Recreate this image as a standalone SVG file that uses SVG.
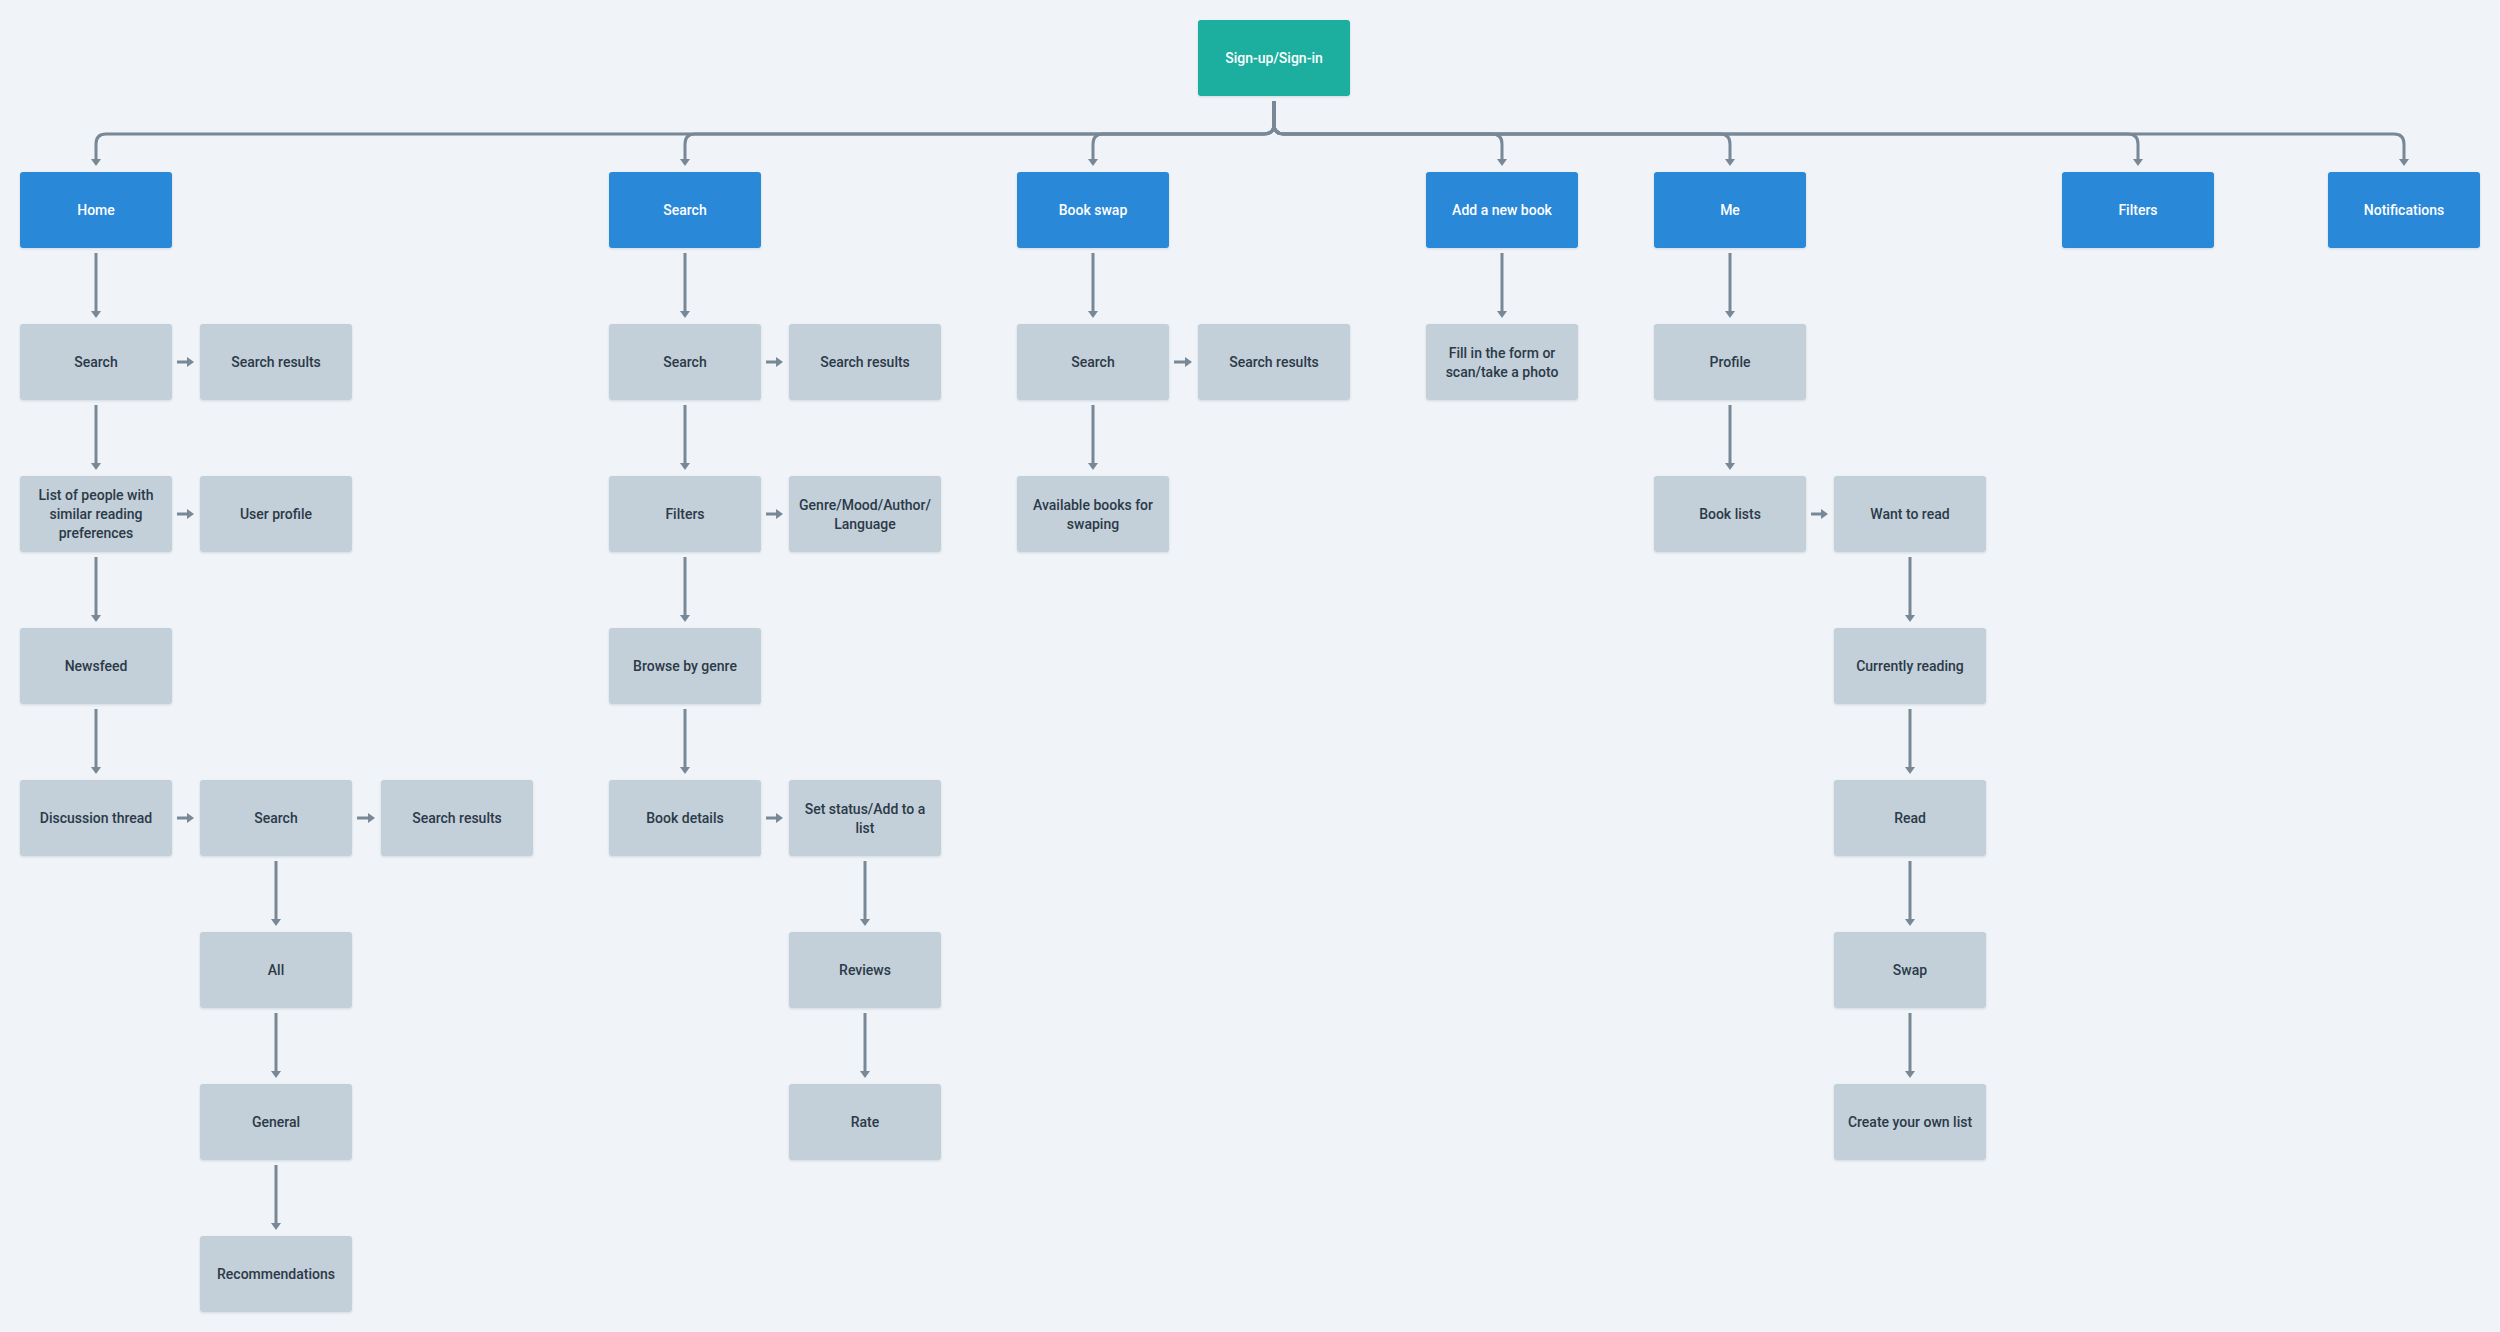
<svg xmlns="http://www.w3.org/2000/svg" width="2500" height="1332" viewBox="0 0 2500 1332">
<style>
.bg{fill:#F0F3F7}
.n rect{rx:3;ry:3;filter:url(#sh)}
.blue rect{fill:#2C88D9}
.teal rect{fill:#1AAE9F}
.grey rect{fill:#C3CFD9}
.n text{font-family:Roboto,"Liberation Sans",Arial,sans-serif;font-size:14px;font-weight:500;text-anchor:middle;dominant-baseline:central}
.blue text,.teal text{fill:#FFFFFF}
.grey text{fill:#2B3A48}
.c path{fill:none;stroke:#788896;stroke-width:3;marker-end:url(#ah)}
</style>
<defs>
<filter id="sh" x="-10%" y="-10%" width="120%" height="130%">
<feDropShadow dx="0" dy="1" stdDeviation="1.2" flood-color="#2B3A48" flood-opacity="0.15"/>
</filter>
<marker id="ah" markerUnits="userSpaceOnUse" viewBox="0 0 7 10" markerWidth="7" markerHeight="10" refX="1" refY="5" orient="auto">
<path d="M0,0 L7,5 L0,10 Z" fill="#788896"/>
</marker>
</defs>
<rect class="bg" x="0" y="0" width="2500" height="1332"/>

<g id="connectors" class="c">
<path d="M1274,101 V124 Q1274,134 1264,134 H106 Q96,134 96,144 V160"/>
<path d="M1274,101 V124 Q1274,134 1264,134 H695 Q685,134 685,144 V160"/>
<path d="M1274,101 V124 Q1274,134 1264,134 H1103 Q1093,134 1093,144 V160"/>
<path d="M1274,101 V124 Q1274,134 1284,134 H1492 Q1502,134 1502,144 V160"/>
<path d="M1274,101 V124 Q1274,134 1284,134 H1720 Q1730,134 1730,144 V160"/>
<path d="M1274,101 V124 Q1274,134 1284,134 H2128 Q2138,134 2138,144 V160"/>
<path d="M1274,101 V124 Q1274,134 1284,134 H2394 Q2404,134 2404,144 V160"/>

<path d="M96,253 V312"/>
<path d="M96,405 V464"/>
<path d="M96,557 V616"/>
<path d="M96,709 V768"/>
<path d="M276,861 V920"/>
<path d="M276,1013 V1072"/>
<path d="M276,1165 V1224"/>

<path d="M685,253 V312"/>
<path d="M685,405 V464"/>
<path d="M685,557 V616"/>
<path d="M685,709 V768"/>
<path d="M865,861 V920"/>
<path d="M865,1013 V1072"/>

<path d="M1093,253 V312"/>
<path d="M1093,405 V464"/>
<path d="M1502,253 V312"/>
<path d="M1730,253 V312"/>
<path d="M1730,405 V464"/>
<path d="M1910,557 V616"/>
<path d="M1910,709 V768"/>
<path d="M1910,861 V920"/>
<path d="M1910,1013 V1072"/>

<path d="M177,362 H188"/>
<path d="M766,362 H777"/>
<path d="M1174,362 H1186"/>
<path d="M177,514 H188"/>
<path d="M766,514 H777"/>
<path d="M1811,514 H1822"/>
<path d="M177,818 H188"/>
<path d="M357,818 H369"/>
<path d="M766,818 H777"/>
</g>

<g id="signup" class="n teal"><rect x="1198" y="20" width="152" height="76"/><text x="1274" y="58">Sign-up/Sign-in</text></g>

<g id="home" class="n blue"><rect x="20" y="172" width="152" height="76"/><text x="96" y="210">Home</text></g>
<g id="search" class="n blue"><rect x="609" y="172" width="152" height="76"/><text x="685" y="210">Search</text></g>
<g id="bookswap" class="n blue"><rect x="1017" y="172" width="152" height="76"/><text x="1093" y="210">Book swap</text></g>
<g id="addbook" class="n blue"><rect x="1426" y="172" width="152" height="76"/><text x="1502" y="210">Add a new book</text></g>
<g id="me" class="n blue"><rect x="1654" y="172" width="152" height="76"/><text x="1730" y="210">Me</text></g>
<g id="filters" class="n blue"><rect x="2062" y="172" width="152" height="76"/><text x="2138" y="210">Filters</text></g>
<g id="notifications" class="n blue"><rect x="2328" y="172" width="152" height="76"/><text x="2404" y="210">Notifications</text></g>

<g id="home-search" class="n grey"><rect x="20" y="324" width="152" height="76"/><text x="96" y="362">Search</text></g>
<g id="home-search-results" class="n grey"><rect x="200" y="324" width="152" height="76"/><text x="276" y="362">Search results</text></g>
<g id="home-people" class="n grey"><rect x="20" y="476" width="152" height="76"/><text x="96" y="495">List of people with</text><text x="96" y="514">similar reading</text><text x="96" y="533">preferences</text></g>
<g id="home-user-profile" class="n grey"><rect x="200" y="476" width="152" height="76"/><text x="276" y="514">User profile</text></g>
<g id="home-newsfeed" class="n grey"><rect x="20" y="628" width="152" height="76"/><text x="96" y="666">Newsfeed</text></g>
<g id="home-discussion" class="n grey"><rect x="20" y="780" width="152" height="76"/><text x="96" y="818">Discussion thread</text></g>
<g id="discussion-search" class="n grey"><rect x="200" y="780" width="152" height="76"/><text x="276" y="818">Search</text></g>
<g id="discussion-search-results" class="n grey"><rect x="381" y="780" width="152" height="76"/><text x="457" y="818">Search results</text></g>
<g id="discussion-all" class="n grey"><rect x="200" y="932" width="152" height="76"/><text x="276" y="970">All</text></g>
<g id="discussion-general" class="n grey"><rect x="200" y="1084" width="152" height="76"/><text x="276" y="1122">General</text></g>
<g id="discussion-recommendations" class="n grey"><rect x="200" y="1236" width="152" height="76"/><text x="276" y="1274">Recommendations</text></g>

<g id="search-search" class="n grey"><rect x="609" y="324" width="152" height="76"/><text x="685" y="362">Search</text></g>
<g id="search-search-results" class="n grey"><rect x="789" y="324" width="152" height="76"/><text x="865" y="362">Search results</text></g>
<g id="search-filters" class="n grey"><rect x="609" y="476" width="152" height="76"/><text x="685" y="514">Filters</text></g>
<g id="search-genre" class="n grey"><rect x="789" y="476" width="152" height="76"/><text x="865" y="505">Genre/Mood/Author/</text><text x="865" y="524">Language</text></g>
<g id="search-browse" class="n grey"><rect x="609" y="628" width="152" height="76"/><text x="685" y="666">Browse by genre</text></g>
<g id="search-book-details" class="n grey"><rect x="609" y="780" width="152" height="76"/><text x="685" y="818">Book details</text></g>
<g id="search-set-status" class="n grey"><rect x="789" y="780" width="152" height="76"/><text x="865" y="809">Set status/Add to a</text><text x="865" y="828">list</text></g>
<g id="search-reviews" class="n grey"><rect x="789" y="932" width="152" height="76"/><text x="865" y="970">Reviews</text></g>
<g id="search-rate" class="n grey"><rect x="789" y="1084" width="152" height="76"/><text x="865" y="1122">Rate</text></g>

<g id="swap-search" class="n grey"><rect x="1017" y="324" width="152" height="76"/><text x="1093" y="362">Search</text></g>
<g id="swap-search-results" class="n grey"><rect x="1198" y="324" width="152" height="76"/><text x="1274" y="362">Search results</text></g>
<g id="swap-available" class="n grey"><rect x="1017" y="476" width="152" height="76"/><text x="1093" y="505">Available books for</text><text x="1093" y="524">swaping</text></g>

<g id="add-form" class="n grey"><rect x="1426" y="324" width="152" height="76"/><text x="1502" y="353">Fill in the form or</text><text x="1502" y="372">scan/take a photo</text></g>

<g id="me-profile" class="n grey"><rect x="1654" y="324" width="152" height="76"/><text x="1730" y="362">Profile</text></g>
<g id="me-book-lists" class="n grey"><rect x="1654" y="476" width="152" height="76"/><text x="1730" y="514">Book lists</text></g>
<g id="me-want" class="n grey"><rect x="1834" y="476" width="152" height="76"/><text x="1910" y="514">Want to read</text></g>
<g id="me-currently" class="n grey"><rect x="1834" y="628" width="152" height="76"/><text x="1910" y="666">Currently reading</text></g>
<g id="me-read" class="n grey"><rect x="1834" y="780" width="152" height="76"/><text x="1910" y="818">Read</text></g>
<g id="me-swap" class="n grey"><rect x="1834" y="932" width="152" height="76"/><text x="1910" y="970">Swap</text></g>
<g id="me-create" class="n grey"><rect x="1834" y="1084" width="152" height="76"/><text x="1910" y="1122">Create your own list</text></g>
</svg>
